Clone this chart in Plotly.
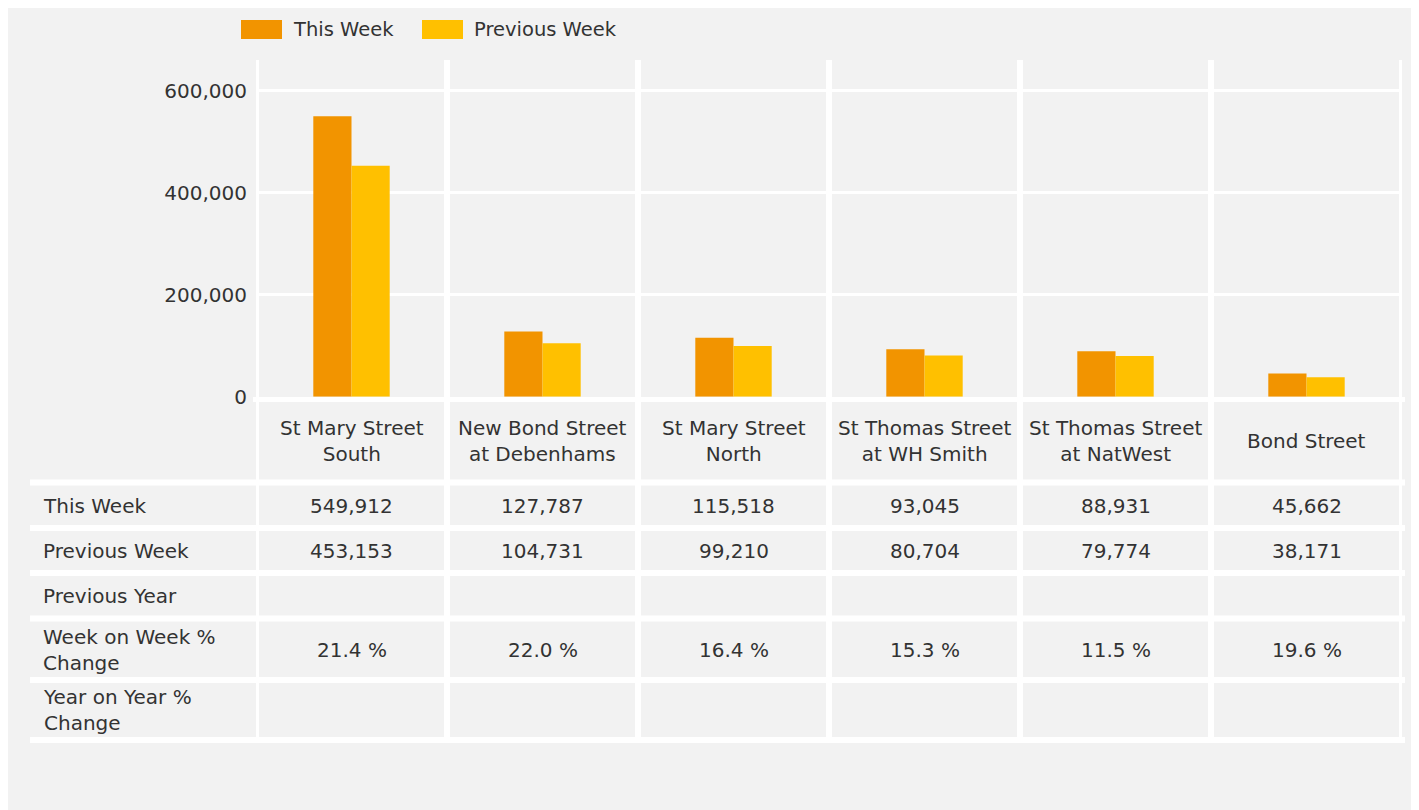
import plotly.graph_objects as go

# ---- data ----
categories = ["St Mary Street South", "New Bond Street at Debenhams", "St Mary Street North",
              "St Thomas Street at WH Smith", "St Thomas Street at NatWest", "Bond Street"]
header_labels = ["St Mary Street<br>South", "New Bond Street<br>at Debenhams", "St Mary Street<br>North",
                 "St Thomas Street<br>at WH Smith", "St Thomas Street<br>at NatWest", "Bond Street"]
this_week = [549912, 127787, 115518, 93045, 88931, 45662]
previous_week = [453153, 104731, 99210, 80704, 79774, 38171]
previous_year = [None, None, None, None, None, None]
wow_change = [21.4, 22.0, 16.4, 15.3, 11.5, 19.6]
yoy_change = [None, None, None, None, None, None]
row_labels = ["This Week", "Previous Week", "Previous Year", "Week on Week %<br>Change", "Year on Year %<br>Change"]
y_ticks = [0, 200000, 400000, 600000]

# ---- style ----
OFF = 8                      # page body margin
W, H = 1419 - OFF, 810 - OFF
BG = "#f2f2f2"
C_THIS = "#F29400"
C_PREV = "#FFC000"
TXT = "#333333"
FONT = "DejaVu Sans"
FS = 20
FS_LEG = 19.5


def px(x):
    return (x - OFF) / W


def py(y):
    return 1 - (y - OFF) / H


fig = go.Figure()
fig.add_trace(go.Bar(name="This Week", x=categories, y=this_week, marker_color=C_THIS,
                     marker_line_width=0))
fig.add_trace(go.Bar(name="Previous Week", x=categories, y=previous_week, marker_color=C_PREV,
                     marker_line_width=0))

plot_top, plot_bottom = 60, 396.7
grid_top_px = 90.8
y_max = 600000 * (plot_bottom - plot_top) / (plot_bottom - grid_top_px)

shapes = []
annotations = []

# category separators (chart + table)
for i in range(len(categories) + 1):
    shapes.append(dict(type="line", xref="x", yref="paper", x0=i - 0.5, x1=i - 0.5,
                       y0=py(60), y1=py(743), line=dict(color="white", width=6), layer="above"))
# band under the plot area
shapes.append(dict(type="rect", xref="paper", yref="paper", x0=px(253), x1=px(1405),
                   y0=py(397), y1=py(402), fillcolor="white", line_width=0, layer="above"))
# table row separators
for yc in [482.5, 528, 573, 618.5, 680, 740]:
    shapes.append(dict(type="line", xref="paper", yref="paper", x0=px(30), x1=px(1405),
                       y0=py(yc), y1=py(yc), line=dict(color="white", width=6), layer="above"))

# legend (manual)
legend_items = [("This Week", C_THIS, 241), ("Previous Week", C_PREV, 422)]
for name, col, x0 in legend_items:
    shapes.append(dict(type="rect", xref="paper", yref="paper", x0=px(x0), x1=px(x0 + 41),
                       y0=py(39), y1=py(20), fillcolor=col, line_width=0))
    annotations.append(dict(text=name, xref="paper", yref="paper", x=px(x0 + 50), y=py(29.5),
                            xanchor="left", yanchor="middle", showarrow=False,
                            font=dict(family=FONT, size=FS_LEG, color=TXT)))

# header labels
for i, lab in enumerate(header_labels):
    annotations.append(dict(text=lab, xref="x", yref="paper", x=i, y=py(441.5),
                            xanchor="center", yanchor="middle", showarrow=False,
                            font=dict(family=FONT, size=FS, color=TXT)))

# row labels
row_centers = [506, 551, 596, 649.5, 710]
for lab, yc in zip(row_labels, row_centers):
    annotations.append(dict(text=lab, xref="paper", yref="paper", x=px(41), y=py(yc),
                            xanchor="left", yanchor="middle", showarrow=False, align="left",
                            font=dict(family=FONT, size=FS, color=TXT)))

# cell values
rows = [
    [f"{v:,}" for v in this_week],
    [f"{v:,}" for v in previous_week],
    ["" if v is None else f"{v:,}" for v in previous_year],
    [f"{v:.1f} %" for v in wow_change],
    ["" if v is None else f"{v:.1f} %" for v in yoy_change],
]
for r, yc in zip(rows, row_centers):
    for i, t in enumerate(r):
        if t:
            annotations.append(dict(text=t, xref="x", yref="paper", x=i, y=py(yc),
                                    xanchor="center", yanchor="middle", showarrow=False,
                                    font=dict(family=FONT, size=FS, color=TXT)))

fig.update_layout(
    width=W, height=H, autosize=False,
    margin=dict(l=0, r=0, t=0, b=0, pad=0),
    paper_bgcolor=BG, plot_bgcolor=BG,
    barmode="group", bargap=0.6, bargroupgap=0,
    showlegend=False,
    font=dict(family=FONT, size=FS, color=TXT),
    shapes=shapes, annotations=annotations,
    xaxis=dict(domain=[px(256), px(1402)], range=[-0.5, 5.5], showticklabels=False,
               showgrid=False, zeroline=False, showline=False, ticks="", fixedrange=True,
               categoryorder="array", categoryarray=categories),
    yaxis=dict(domain=[py(plot_bottom), py(plot_top)], range=[0, y_max], tickvals=y_ticks,
               tickformat=",", showgrid=True, gridcolor="white", gridwidth=3, zeroline=False,
               showline=False, ticks="", ticklabelstandoff=8, automargin=False,
               tickfont=dict(family=FONT, size=FS, color=TXT)),
)

fig.write_html("out.html")
